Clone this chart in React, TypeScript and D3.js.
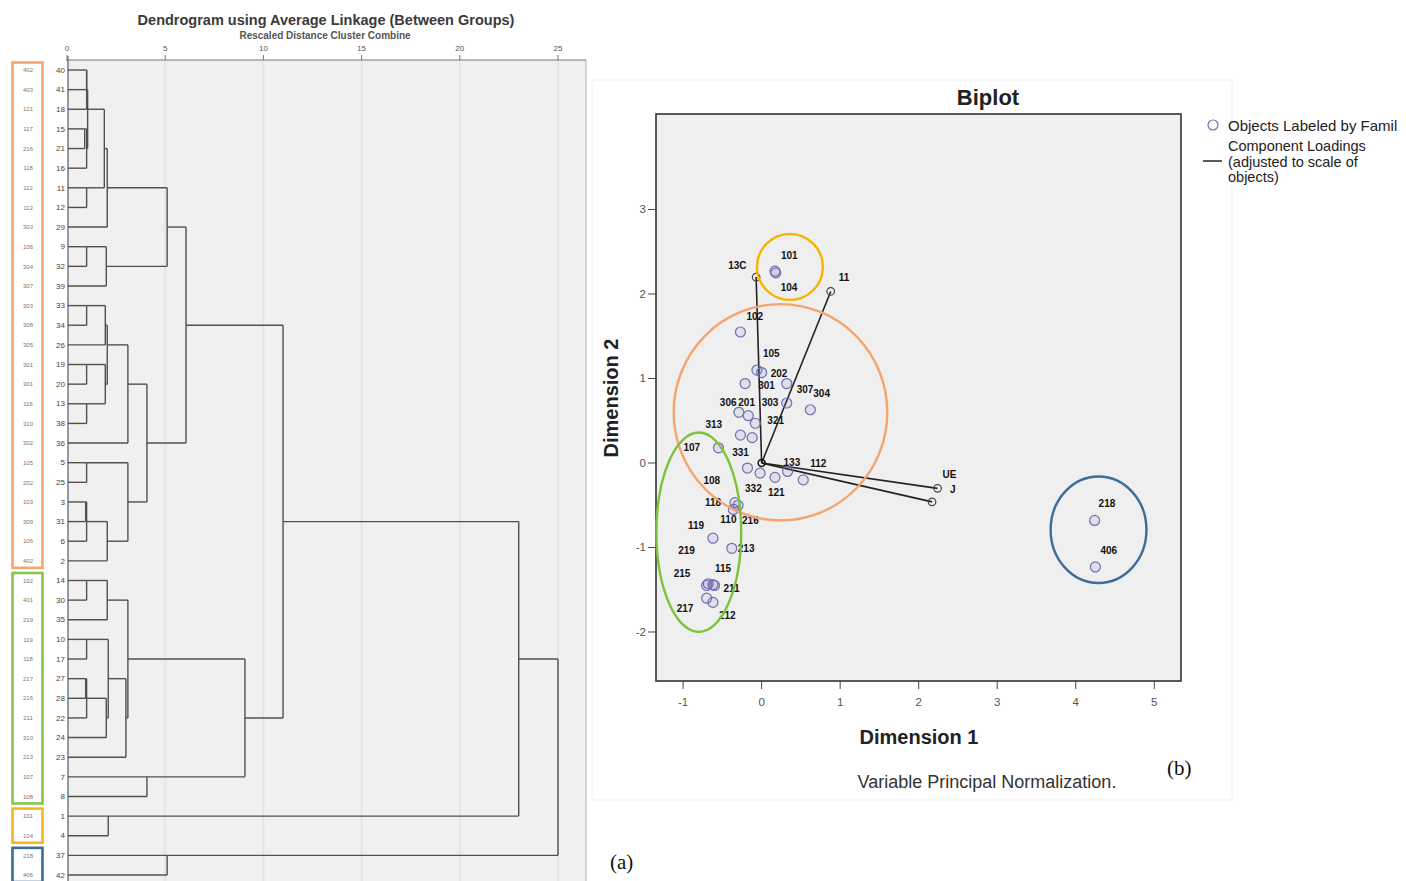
import React from 'react';
import * as d3 from 'd3';

// ---------- (a) dendrogram ----------
const caseLabels = ['402','403','121','117','216','118','112','113','303','106','304','307','303','308','305','301','301','116','310','302','105','202','103','309','106','402','102','401','219','119','118','217','216','211','310','213','107','108','101','104','218','406'];
const caseNums = [40,41,18,15,21,16,11,12,29,9,32,39,33,34,26,19,20,13,38,36,5,25,3,31,6,2,14,30,35,10,17,27,28,22,24,23,7,8,1,4,37,42];

// merges: node ids 0..41 are rows, each merge makes node 42, 43, ...
const joinA = [0,42,3,44,43,6,46,48,9,50,49,12,53,15,17,55,54,58,20,22,61,62,60,59,52,26,67,29,31,70,71,69,73,68,36,75,66,38,78,40,80];
const joinB = [1,2,4,5,45,7,47,8,10,11,51,13,14,16,18,56,57,19,21,23,24,25,63,64,65,27,28,30,32,33,34,72,35,74,37,76,77,39,79,41,81];
const joinHeight = [1.0,1.0,0.9,1.0,1.05,1.0,1.9,2.05,1.0,2.0,5.1,1.0,1.95,1.0,1.0,1.95,2.05,3.1,1.0,0.95,1.0,2.05,3.1,4.07,6.06,1.0,2.05,1.0,0.95,1.0,2.0,2.1,3.0,3.1,4.07,9.06,11.0,2.1,23.0,5.1,25.0];
const distTicks = [0,5,10,15,20,25];

const groupFirst = [0,26,38,40];
const groupLast = [25,37,39,41];
const groupColors = ['#f4a66e','#86c54b','#f8b61c','#3f6b99'];

// ---------- (b) biplot ----------
const objLabels = ['101','104','102','105','202','301','307','304','306','201','303','313','321','107','331','108','332','121','133','112','118','110','216','119','213','219','115','215','211','217','212','218','406'];
const objDim1 = [0.17,0.18,-0.27,-0.06,0.0,-0.21,0.32,0.62,-0.29,-0.17,0.32,-0.27,-0.08,-0.55,-0.12,-0.18,-0.02,0.17,0.33,0.53,-0.34,-0.36,-0.3,-0.62,-0.38,-0.68,-0.62,-0.7,-0.6,-0.7,-0.62,4.24,4.25];
const objDim2 = [2.27,2.25,1.55,1.1,1.07,0.94,0.94,0.63,0.6,0.56,0.71,0.33,0.47,0.18,0.3,-0.06,-0.12,-0.17,-0.1,-0.2,-0.47,-0.55,-0.5,-0.89,-1.01,-1.43,-1.44,-1.45,-1.45,-1.6,-1.65,-0.68,-1.23];
// label placement (pixels from the point)
const objLabelDx = [6,5,6,6,9,13,10,3,-19,-10,-25,-35,12,-35,-20,-44,-15,-7,-4,7,-30,-13,4,-25,6,-30,2,-33,9,-30,6,4,5];
const objLabelDy = [-12,18,-12,-13,4,5,9,-13,-6,-10,3,-7,1,3,18,16,19,19,-5,-13,3,14,19,-9,4,-30,-13,-9,6,14,17,-13,-13];

const vecLabels = ['13C','11','UE','J'];
const vecDim1 = [-0.07,0.88,2.24,2.17];
const vecDim2 = [2.2,2.03,-0.3,-0.46];
const vecLabelDx = [-28,8,5,18];
const vecLabelDy = [-8,-10,-10,-9];

const dim1Ticks = [-1,0,1,2,3,4,5];
const dim2Ticks = [-2,-1,0,1,2,3];

// highlight rings, in data units
const ringCx = [0.36,0.24,-0.8,4.29];
const ringCy = [2.32,0.6,-0.82,-0.79];
const ringRx = [0.42,1.36,0.54,0.61];
const ringRy = [0.39,1.28,1.18,0.63];
const ringColors = ['#f6b400','#f5a46a','#7cc33c','#3f6b99'];

const sans = 'Liberation Sans, Arial, sans-serif';
const serif = 'Liberation Serif, Times New Roman, serif';

function Dendrogram() {
  const x = d3.scaleLinear().domain([0, 25]).range([67, 558]);
  const y = d3.scaleLinear().domain([0, caseNums.length - 1]).range([70, 875]);

  const nodes = caseNums.map((_, i) => ({ row: i, h: 0 }));
  const segs: { x1: number; y1: number; x2: number; y2: number }[] = [];
  joinA.forEach((a, k) => {
    const na = nodes[a], nb = nodes[joinB[k]], h = joinHeight[k];
    [na, nb].forEach(n => segs.push({ x1: n.h === 0 ? 68 : x(n.h), x2: x(h), y1: y(n.row), y2: y(n.row) }));
    segs.push({ x1: x(h), x2: x(h), y1: y(na.row), y2: y(nb.row) });
    nodes.push({ row: Math.floor((na.row + nb.row) / 2), h });
  });

  return (
    <g>
      <text x={326} y={25} textAnchor="middle" fontFamily={sans} fontWeight="bold" fontSize={14.5} fill="#3a3a3a">
        Dendrogram using Average Linkage (Between Groups)
      </text>
      <text x={325} y={39} textAnchor="middle" fontFamily={sans} fontWeight="bold" fontSize={10} fill="#555">
        Rescaled Distance Cluster Combine
      </text>
      <rect x={68} y={60} width={518} height={821} fill="#f0f0f0" />
      {distTicks.slice(1).map(t => (
        <line key={'g' + t} x1={x(t)} x2={x(t)} y1={60} y2={881} stroke="#e5e5e5" strokeWidth={2} />
      ))}
      <line x1={586} x2={586} y1={60} y2={881} stroke="#b0b0b0" />
      <line x1={66} x2={586} y1={60} y2={60} stroke="#777" strokeWidth={1.2} />
      <line x1={68} x2={68} y1={56} y2={881} stroke="#666" strokeWidth={1.3} />
      {distTicks.map(t => (
        <g key={'t' + t}>
          <line x1={x(t)} x2={x(t)} y1={55} y2={60} stroke="#777" />
          <text x={x(t)} y={51} textAnchor="middle" fontFamily={sans} fontSize={8} fill="#555">{t}</text>
        </g>
      ))}
      {segs.map((s, i) => (
        <line key={i} x1={s.x1} x2={s.x2} y1={s.y1} y2={s.y2} stroke="#505050" strokeWidth={1.4} />
      ))}
      {caseNums.map((n, i) => (
        <g key={'r' + i}>
          <text x={65} y={y(i) + 2.7} textAnchor="end" fontFamily={sans} fontSize={8} fill="#444">{n}</text>
          <text x={28} y={y(i) + 2.2} textAnchor="middle" fontFamily={sans} fontSize={6} fill="#777">{caseLabels[i]}</text>
        </g>
      ))}
      {groupFirst.map((g, i) => (
        <rect key={'b' + i} x={12.5} y={y(g) - 7.5} width={30} height={y(groupLast[i]) - y(g) + 14.5}
          fill="none" stroke={groupColors[i]} strokeWidth={2.6} />
      ))}
    </g>
  );
}

function Biplot() {
  const x = d3.scaleLinear().domain([-1.345, 5.34]).range([656, 1181]);
  const y = d3.scaleLinear().domain([-2.58, 4.13]).range([681, 114]);
  const objColor = '#6f6fb5';

  return (
    <g>
      <rect x={592} y={80} width={640} height={720} fill="none" stroke="#f1f1f1" />
      <text x={988} y={105} textAnchor="middle" fontFamily={sans} fontWeight="bold" fontSize={22} fill="#222">Biplot</text>
      <rect x={656} y={114} width={525} height={567} fill="#efefef" stroke="#333" strokeWidth={1.6} />
      {dim1Ticks.map(t => (
        <g key={'x' + t}>
          <line x1={x(t)} x2={x(t)} y1={681} y2={689} stroke="#444" />
          <text x={x(t)} y={706} textAnchor="middle" fontFamily={sans} fontSize={11.5} fill="#555">{t}</text>
        </g>
      ))}
      {dim2Ticks.map(t => (
        <g key={'y' + t}>
          <line x1={648} x2={656} y1={y(t)} y2={y(t)} stroke="#444" />
          <text x={646} y={y(t) + 4} textAnchor="end" fontFamily={sans} fontSize={11.5} fill="#555">{t}</text>
        </g>
      ))}
      <text x={919} y={744} textAnchor="middle" fontFamily={sans} fontWeight="bold" fontSize={20} fill="#222">Dimension 1</text>
      <text transform={`translate(618,398) rotate(-90)`} textAnchor="middle" fontFamily={sans} fontWeight="bold" fontSize={20} fill="#222">Dimension 2</text>
      <text x={987} y={788} textAnchor="middle" fontFamily={sans} fontSize={18} fill="#333">Variable Principal Normalization.</text>

      {vecLabels.map((v, i) => (
        <g key={'v' + i}>
          <line x1={x(0)} y1={y(0)} x2={x(vecDim1[i])} y2={y(vecDim2[i])} stroke="#222" strokeWidth={1.6} />
          <circle cx={x(vecDim1[i])} cy={y(vecDim2[i])} r={3.8} fill="none" stroke="#444" strokeWidth={1.2} />
          <text x={x(vecDim1[i]) + vecLabelDx[i]} y={y(vecDim2[i]) + vecLabelDy[i]} fontFamily={sans} fontWeight="bold" fontSize={10} fill="#111">{v}</text>
        </g>
      ))}
      <circle cx={x(0)} cy={y(0)} r={3.5} fill="none" stroke="#111" strokeWidth={1.5} />

      {objLabels.map((o, i) => (
        <g key={'o' + i}>
          <circle cx={x(objDim1[i])} cy={y(objDim2[i])} r={5} fill="rgba(111,111,181,0.12)" stroke={objColor} strokeWidth={1.2} />
          <text x={x(objDim1[i]) + objLabelDx[i]} y={y(objDim2[i]) + objLabelDy[i]} fontFamily={sans} fontWeight="bold" fontSize={10} fill="#111">{o}</text>
        </g>
      ))}

      {ringCx.map((c, i) => (
        <ellipse key={'e' + i} cx={x(c)} cy={y(ringCy[i])} rx={x(ringRx[i]) - x(0)} ry={y(0) - y(ringRy[i])}
          fill="none" stroke={ringColors[i]} strokeWidth={2.4} />
      ))}

      <circle cx={1213} cy={125} r={5} fill="none" stroke={objColor} strokeWidth={1.2} />
      <text x={1228} y={131} fontFamily={sans} fontSize={15} fill="#222">Objects Labeled by Famil</text>
      <line x1={1203} x2={1222} y1={161} y2={161} stroke="#333" strokeWidth={1.6} />
      <text fontFamily={sans} fontSize={14.5} fill="#222">
        <tspan x={1228} y={151}>Component Loadings</tspan>
        <tspan x={1228} y={167}>(adjusted to scale of</tspan>
        <tspan x={1228} y={182}>objects)</tspan>
      </text>
    </g>
  );
}

export default function App() {
  return (
    <svg width={1406} height={881} style={{ position: 'absolute', left: 0, top: 0, background: '#fff' }}>
      <Dendrogram />
      <Biplot />
      <text x={610} y={869} fontFamily={serif} fontSize={21} fill="#111">(a)</text>
      <text x={1167} y={775} fontFamily={serif} fontSize={21} fill="#111">(b)</text>
    </svg>
  );
}
